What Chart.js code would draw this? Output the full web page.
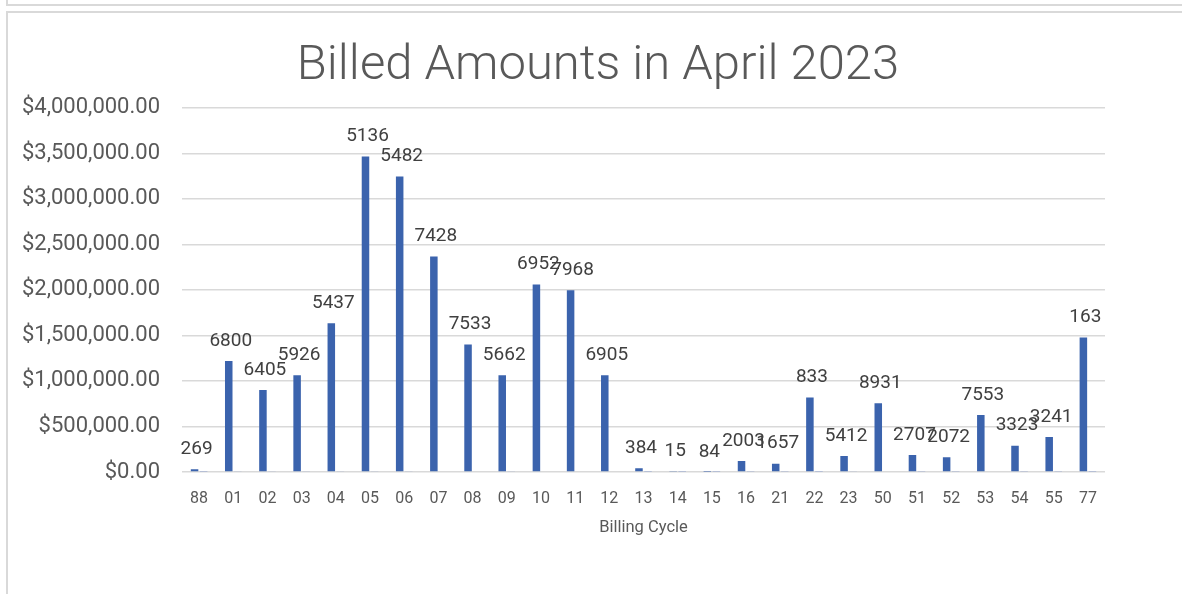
<!DOCTYPE html>
<html>
<head>
<meta charset="utf-8">
<script src="https://cdn.jsdelivr.net/npm/chart.js@4.4.0/dist/chart.umd.min.js"></script>
<style>
    html, body { margin: 0; padding: 0; background: #fff; overflow: hidden; }
    #wrap { position: relative; width: 1182px; height: 594px; }
    #topBox { position: absolute; left: 6px; top: -4px; width: 1190px; height: 8px;
              border-left: 2px solid #d9d9d9; border-bottom: 2px solid #d9d9d9; }
    #chartBox { position: absolute; left: 6px; top: 11px; width: 1190px; height: 600px;
                border-left: 2px solid #d9d9d9; border-top: 2px solid #d9d9d9; }
    canvas { position: absolute; left: 0; top: 0; }
</style>
</head>
<body>
<div id="wrap">
    <div id="topBox"></div>
    <div id="chartBox"></div>
    <canvas id="billedChart" width="1182" height="594"></canvas>
</div>
<script>
const cycles = ['88', '01', '02', '03', '04', '05', '06', '07', '08', '09', '10', '11', '12', '13',
                '14', '15', '16', '21', '22', '23', '50', '51', '52', '53', '54', '55', '77'];

// billed amount per cycle
const amounts = [30000, 1220000, 900000, 1063000, 1634000, 3465000, 3245000, 2366000, 1400000,
                 1063000, 2060000, 1997000, 1063000, 40000, 10000, 2000, 120000, 91000, 817000,
                 176000, 755000, 187000, 161000, 626000, 289000, 385000, 1476000];

// number of accounts per cycle (shown as data labels)
const counts = [269, 6800, 6405, 5926, 5437, 5136, 5482, 7428, 7533, 5662, 6952, 7968, 6905, 384,
                15, 84, 2003, 1657, 833, 5412, 8931, 2707, 2072, 7553, 3323, 3241, 163];

const yTicks = [0, 500000, 1000000, 1500000, 2000000, 2500000, 3000000, 3500000, 4000000];

const textGrey = '#595959';
const fontFamily = 'Roboto, "Open Sans", "Liberation Sans", sans-serif';

const countLabels = {
    id: 'countLabels',
    afterDatasetsDraw(chart) {
        const ctx = chart.ctx;
        const bars = chart.getDatasetMeta(0).data;
        ctx.save();
        ctx.font = '19px ' + fontFamily;
        ctx.fillStyle = '#404040';
        ctx.textAlign = 'center';
        ctx.textBaseline = 'middle';
        bars.forEach((bar, i) => {
            ctx.fillText(String(counts[i]), bar.x + 2, bar.y - 20);
        });
        ctx.restore();
    }
};

new Chart(document.getElementById('billedChart'), {
    type: 'bar',
    data: {
        labels: cycles,
        datasets: [{
            label: 'Billed Amount',
            data: amounts,
            backgroundColor: '#3b63ad',
            categoryPercentage: 0.53,
            barPercentage: 0.83,
        }, {
            label: 'Count',
            data: counts,
            backgroundColor: '#aab6d3',
            categoryPercentage: 0.53,
            barPercentage: 0.83,
        }]
    },
    options: {
        responsive: false,
        animation: false,
        layout: {
            padding: { left: 14, right: 0, top: 0, bottom: 56 }
        },
        plugins: {
            legend: { display: false },
            tooltip: { enabled: false },
            title: {
                display: true,
                text: 'Billed Amounts in April 2023',
                color: textGrey,
                font: { family: fontFamily, size: 49, weight: 300, lineHeight: 1.2 },
                padding: { top: 37, bottom: 12 }
            }
        },
        scales: {
            x: {
                afterFit(scale) {
                    scale.height = 66;
                },
                grid: { display: false, drawTicks: false },
                border: { display: false },
                ticks: {
                    color: textGrey,
                    padding: 17,
                    maxRotation: 0,
                    autoSkip: false,
                    font: { family: fontFamily, size: 16 }
                },
                title: {
                    display: true,
                    text: 'Billing Cycle',
                    color: textGrey,
                    padding: { top: 0, bottom: 0 },
                    font: { family: fontFamily, size: 16.5 }
                }
            },
            y: {
                min: 0,
                max: 4000000,
                afterBuildTicks(scale) {
                    scale.ticks = yTicks.map(v => ({ value: v }));
                },
                afterFit(scale) {
                    scale.width = 168;
                },
                grid: { color: '#d9d9d9', lineWidth: 1.5, drawTicks: false },
                border: { display: false },
                ticks: {
                    color: textGrey,
                    padding: 22,
                    font: { family: fontFamily, size: 22 },
                    callback: (v) => '$' + Number(v).toLocaleString('en-US', { minimumFractionDigits: 2, maximumFractionDigits: 2 })
                }
            },
            // empty axis on the right that just reserves the margin beside the plot
            yRight: {
                position: 'right',
                display: true,
                afterFit(scale) {
                    scale.width = 77;
                },
                grid: { display: false, drawTicks: false },
                border: { display: false },
                ticks: { display: false }
            }
        }
    },
    plugins: [countLabels]
});
</script>
</body>
</html>
